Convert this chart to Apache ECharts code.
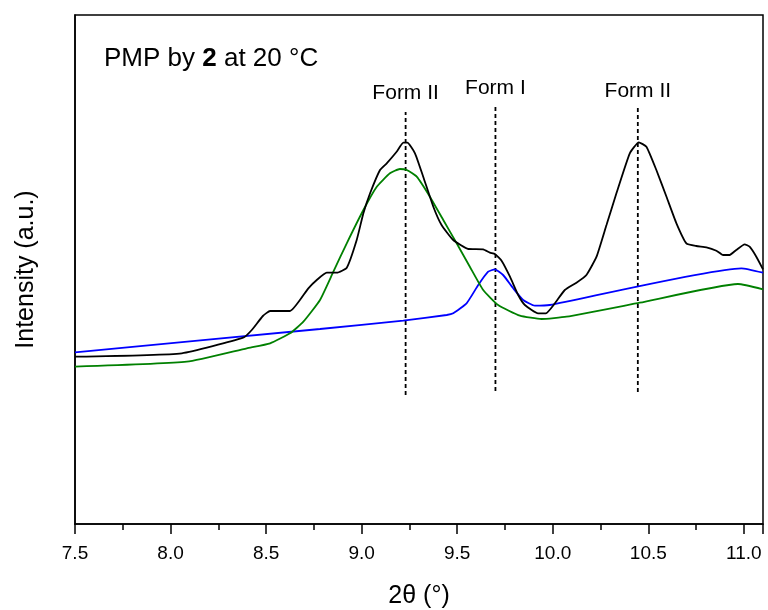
<!DOCTYPE html>
<html>
<head>
<meta charset="utf-8">
<script src="https://cdn.jsdelivr.net/npm/echarts@6/dist/echarts.min.js"></script>
<style>
html,body{margin:0;padding:0;background:#fff;}
#chart{width:768px;height:610px;}
</style>
</head>
<body>
<div id="chart"></div>
<script>
// measured pattern (black), fitted Form II (green), fitted Form I (blue)
var blackX = [7.50,8.059,8.380,8.425,8.483,8.521,8.625,8.721,8.765,8.817,8.870,8.922,8.974,9.009,9.044,9.096,9.131,9.183,9.218,9.239,9.279,9.322,9.375,9.418,9.479,9.558,9.636,9.671,9.697,9.732,9.776,9.819,9.854,9.923,9.964,10.011,10.063,10.124,10.176,10.229,10.281,10.333,10.403,10.450,10.490,10.542,10.595,10.647,10.699,10.751,10.804,10.856,10.891,10.925,10.960,11.004,11.030,11.065,11.100];
var blackY = [167.3,170.7,186.3,194,208,213,213,235.7,244,251.3,251.3,256.3,284,310.7,330.7,354,360.7,372.3,381.3,381.3,370.7,347.3,317.3,299,284,275,274.7,271.3,270,263.3,247.3,229,219,210.7,210.7,220.7,234,241.3,249,267.3,299,330.7,370.7,381.7,377.3,354,327.3,300.7,280.7,278,276.7,273.3,269,269,274,279.7,277.3,267.3,254.7];

var blueX = [7.50,8.782,9.218,9.445,9.479,9.549,9.610,9.662,9.697,9.740,9.793,9.845,9.906,9.984,10.987,11.100];
var blueY = [171.7,195,203.3,209,210.7,220.7,239,252.3,254.7,249,235.7,224,218.3,219,255.7,251.3];

var greenX = [7.50,8.085,8.399,8.521,8.625,8.695,8.782,8.852,8.922,9.009,9.079,9.148,9.200,9.236,9.288,9.357,9.427,9.497,9.566,9.636,9.714,9.828,9.941,10.072,10.455,10.969,11.100];
var greenY = [157.3,162.3,175.7,180.7,190.7,202.3,224,252.3,280.7,314,337.3,350.7,355,354,347.3,327.3,304,280.7,257.3,234,219,208.3,205,207.3,221.3,240,234.7];

// dashed marker lines and their labels
var markerX = [9.23, 9.70, 10.445];
var markerBottom = [129, 133, 132];
var markerTop = [412, 417, 417];
var markerLabelY = [431, 436, 433];
var markerLabels = ['Form II', 'Form I', 'Form II'];

var xTicks = {min: 7.5, max: 11.1, interval: 0.5};

function pairs(xs, ys){
  var out = [];
  for (var i = 0; i < xs.length; i++) out.push([xs[i], ys[i]]);
  return out;
}

var FONT = 'Liberation Sans, Arial, sans-serif';

var series = [
  {name:'pattern', type:'line', data:pairs(blackX, blackY), showSymbol:false, smooth:0.15,
   lineStyle:{color:'#000', width:1.8}, z:4},
  {name:'Form I', type:'line', data:pairs(blueX, blueY), showSymbol:false, smooth:0.15,
   lineStyle:{color:'#0000ff', width:1.8}, z:3},
  {name:'Form II', type:'line', data:pairs(greenX, greenY), showSymbol:false, smooth:0.15,
   lineStyle:{color:'#008000', width:1.8}, z:3}
];

for (var i = 0; i < markerX.length; i++) {
  series.push({
    type:'line', data:[[markerX[i], markerBottom[i]], [markerX[i], markerTop[i]]],
    showSymbol:false, silent:true,
    lineStyle:{color:'#000', width:1.8, type:[4,3]}, z:2,
    markPoint:{
      silent:true, symbol:'circle', symbolSize:0,
      itemStyle:{color:'#000'},
      label:{show:true, position:'inside', formatter:'{b}', color:'#000', fontSize:21, fontFamily:FONT},
      data:[{name:markerLabels[i], coord:[markerX[i], markerLabelY[i]]}]
    }
  });
}

var chart = echarts.init(document.getElementById('chart'));
chart.setOption({
  animation:false,
  backgroundColor:'#fff',
  grid:{left:75, right:5, top:15, bottom:86, outerBoundsMode:'none', containLabel:false,
        show:true, borderColor:'#000', borderWidth:1.5},
  xAxis:{
    type:'value', min:xTicks.min, max:xTicks.max, interval:xTicks.interval,
    name:'2\u03b8 (\u00b0)', nameLocation:'middle', nameGap:60,
    nameTextStyle:{fontSize:25, color:'#000', fontFamily:FONT},
    axisLine:{lineStyle:{color:'#000', width:1.5}},
    axisTick:{show:true, length:10, lineStyle:{color:'#000', width:1.5}},
    minorTick:{show:true, splitNumber:2, length:6, lineStyle:{color:'#000', width:1.5}},
    splitLine:{show:false},
    axisLabel:{
      color:'#000', fontSize:19, fontFamily:FONT, margin:20,
      formatter:function(v){ return v > 11.05 ? '' : v.toFixed(1); }
    }
  },
  yAxis:{
    type:'value', min:0, max:509,
    name:'Intensity (a.u.)', nameLocation:'middle', nameGap:36,
    nameTextStyle:{fontSize:25, color:'#000', fontFamily:FONT},
    axisLine:{show:true, lineStyle:{color:'#000', width:1.5}},
    axisTick:{show:false}, axisLabel:{show:false}, splitLine:{show:false}
  },
  graphic:[{
    type:'text', left:104, top:46,
    style:{
      text:'{n|PMP by }{b|2}{n| at 20 \u00b0C}',
      rich:{
        n:{fontSize:26, fontFamily:FONT, fill:'#000'},
        b:{fontSize:26, fontFamily:FONT, fontWeight:'bold', fill:'#000'}
      }
    }
  }],
  series:series
});
</script>
</body>
</html>
